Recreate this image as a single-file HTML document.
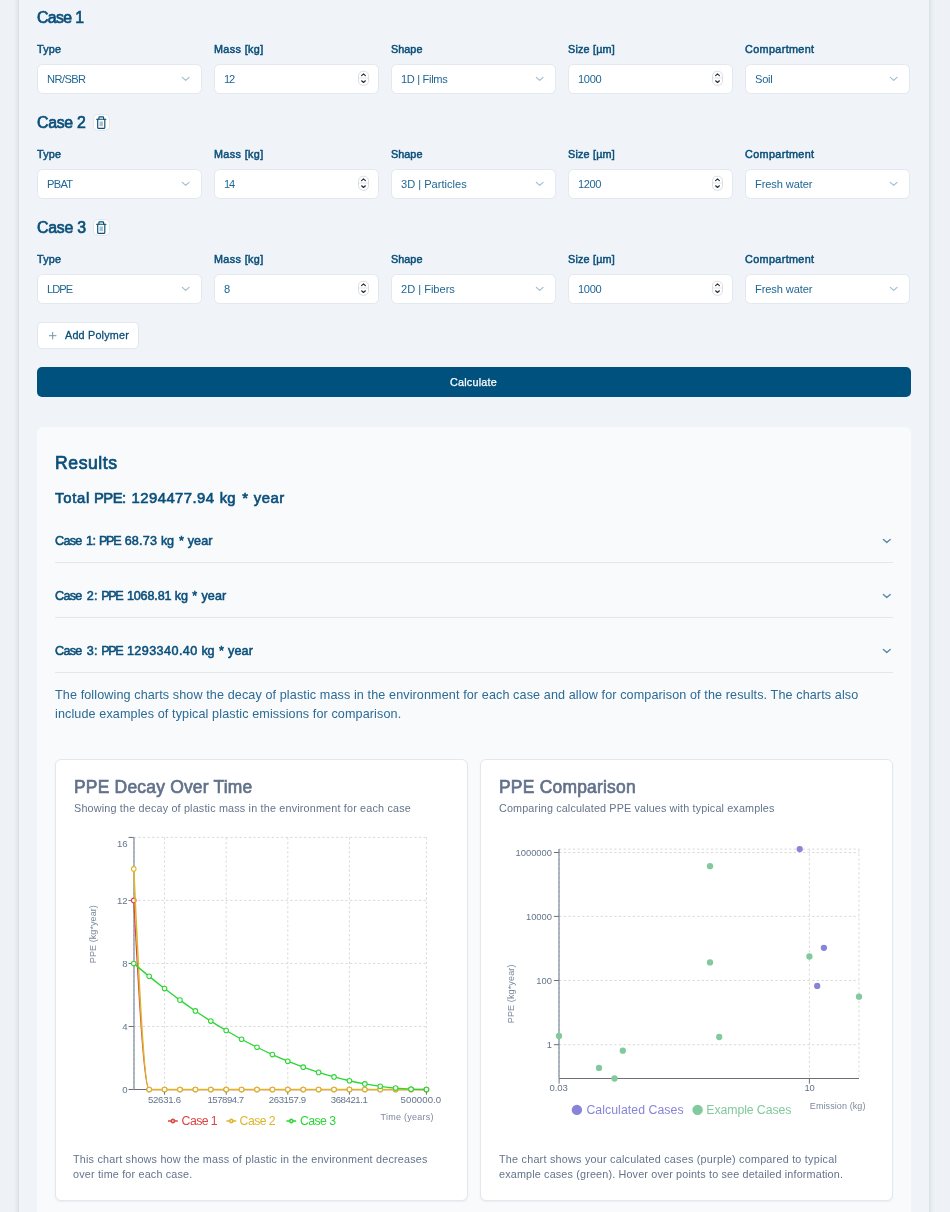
<!DOCTYPE html>
<html lang="en"><head><meta charset="utf-8"><meta name="viewport" content="width=device-width, initial-scale=1"><title>Plastic Persistence Calculator</title>
<style>
*{box-sizing:border-box}
html,body{margin:0;padding:0}
body{background:#eef2f6;font-family:"Liberation Sans",Arial,Helvetica,sans-serif;color:#0b4f7a;-webkit-font-smoothing:antialiased}
.page{position:relative;width:950px;height:1212px;overflow:hidden;background:#eef2f6}
.wrap{position:absolute;left:19px;top:-40px;width:910px;height:1320px;background:#f0f4f9;box-shadow:0 0 5px rgba(51,78,120,.22)}
.t{position:absolute;white-space:nowrap;margin:0;will-change:transform}
.box{position:absolute;background:#fff;border:1px solid #e2e8f0;border-radius:5.5px}
.abs{position:absolute}
svg{display:block;overflow:visible}
.w{position:absolute;top:0;white-space:pre}

</style></head>
<body>
<div class="page">
<div class="wrap"></div>
<!-- Case 1 -->
<div class="t " style="left:37.00px;top:6px;font-size:15.85px;line-height:23px;color:#0b4f7a;-webkit-text-stroke:0.68px #0b4f7a;letter-spacing:-0.603px;">Case 1</div>
<div class="t " style="left:37.30px;top:42px;font-size:10.80px;line-height:14px;color:#0b4f7a;-webkit-text-stroke:0.50px #0b4f7a;letter-spacing:0.172px;">Type</div>
<div class="box" style="left:37.00px;top:64.00px;width:165.00px;height:30px"></div>
<div class="t " style="left:46.90px;top:71px;font-size:11.10px;line-height:16px;color:#1f6694;letter-spacing:-0.556px;">NR/SBR</div>
<svg class="abs" style="left:179.25px;top:72.30px" width="13.4" height="13.4" viewBox="0 0 24 24" fill="none" stroke="#0b4f7a" stroke-width="2.1" stroke-linecap="round" stroke-linejoin="round" opacity="0.38"><path d="m6 9.7 6 5.3 6-5.3"/></svg>
<div class="t " style="left:214.30px;top:42px;font-size:10.80px;line-height:14px;color:#0b4f7a;-webkit-text-stroke:0.50px #0b4f7a;letter-spacing:0.366px;">Mass [kg]</div>
<div class="box" style="left:214.00px;top:64.00px;width:165.00px;height:30px"></div>
<div class="t " style="left:223.90px;top:71px;font-size:11.10px;line-height:16px;color:#1f6694;letter-spacing:-1.124px;">12</div>
<svg class="abs" style="left:357.80px;top:70.30px" width="11" height="16" viewBox="0 0 11 16" fill="none"><rect x="0.5" y="1.3" width="10" height="14" rx="4.4" fill="#fff" stroke="#dadada" stroke-width="0.9"/><path d="M0.8 8H10.2" stroke="#e2e2e2" stroke-width="0.9"/><path d="M3.6 5.6 5.5 3.9 7.4 5.6" stroke="#222c3a" stroke-width="1.15" stroke-linecap="round" stroke-linejoin="round"/><path d="M3.6 10.8 5.5 12.5 7.4 10.8" stroke="#222c3a" stroke-width="1.15" stroke-linecap="round" stroke-linejoin="round"/></svg>
<div class="t " style="left:391.30px;top:42px;font-size:10.80px;line-height:14px;color:#0b4f7a;-webkit-text-stroke:0.50px #0b4f7a;letter-spacing:0.054px;">Shape</div>
<div class="box" style="left:391.00px;top:64.00px;width:165.00px;height:30px"></div>
<div class="t " style="left:400.90px;top:71px;font-size:11.10px;line-height:16px;color:#1f6694;letter-spacing:-0.325px;">1D | Films</div>
<svg class="abs" style="left:533.25px;top:72.30px" width="13.4" height="13.4" viewBox="0 0 24 24" fill="none" stroke="#0b4f7a" stroke-width="2.1" stroke-linecap="round" stroke-linejoin="round" opacity="0.38"><path d="m6 9.7 6 5.3 6-5.3"/></svg>
<div class="t " style="left:568.30px;top:42px;font-size:10.80px;line-height:14px;color:#0b4f7a;-webkit-text-stroke:0.50px #0b4f7a;letter-spacing:0.197px;">Size [µm]</div>
<div class="box" style="left:568.00px;top:64.00px;width:165.00px;height:30px"></div>
<div class="t " style="left:577.90px;top:71px;font-size:11.10px;line-height:16px;color:#1f6694;letter-spacing:-0.299px;">1000</div>
<svg class="abs" style="left:711.80px;top:70.30px" width="11" height="16" viewBox="0 0 11 16" fill="none"><rect x="0.5" y="1.3" width="10" height="14" rx="4.4" fill="#fff" stroke="#dadada" stroke-width="0.9"/><path d="M0.8 8H10.2" stroke="#e2e2e2" stroke-width="0.9"/><path d="M3.6 5.6 5.5 3.9 7.4 5.6" stroke="#222c3a" stroke-width="1.15" stroke-linecap="round" stroke-linejoin="round"/><path d="M3.6 10.8 5.5 12.5 7.4 10.8" stroke="#222c3a" stroke-width="1.15" stroke-linecap="round" stroke-linejoin="round"/></svg>
<div class="t " style="left:745.30px;top:42px;font-size:10.80px;line-height:14px;color:#0b4f7a;-webkit-text-stroke:0.50px #0b4f7a;letter-spacing:0.371px;">Compartment</div>
<div class="box" style="left:745.00px;top:64.00px;width:165.00px;height:30px"></div>
<div class="t " style="left:754.90px;top:71px;font-size:11.10px;line-height:16px;color:#1f6694;letter-spacing:-0.252px;">Soil</div>
<svg class="abs" style="left:887.25px;top:72.30px" width="13.4" height="13.4" viewBox="0 0 24 24" fill="none" stroke="#0b4f7a" stroke-width="2.1" stroke-linecap="round" stroke-linejoin="round" opacity="0.38"><path d="m6 9.7 6 5.3 6-5.3"/></svg>
<!-- Case 2 -->
<div class="t " style="left:37.00px;top:111px;font-size:15.85px;line-height:23px;color:#0b4f7a;-webkit-text-stroke:0.68px #0b4f7a;letter-spacing:-0.270px;">Case 2</div>
<div class="box" style="left:93px;top:114.00px;width:17px;height:17px;border-radius:4.5px;border-color:#e0e7ef"></div><svg class="abs" style="left:95px;top:115.00px" width="13" height="15" viewBox="0 0 13 15" fill="none" stroke="#0b4f7a" stroke-width="1.15" stroke-linecap="round" stroke-linejoin="round"><path d="M3.9 4.2V2.5Q3.9 1.9 4.5 1.9H8Q8.6 1.9 8.6 2.5V4.2"/><path d="M1.6 4.2H10.9"/><path d="M2.7 4.2V12.4Q2.7 13.4 3.7 13.4H8.8Q9.8 13.4 9.8 12.4V4.2"/><rect x="4.55" y="6.5" width="3.4" height="4.7" fill="#0b4f7a" stroke="none" opacity="0.36"/></svg>
<div class="t " style="left:37.30px;top:147px;font-size:10.80px;line-height:14px;color:#0b4f7a;-webkit-text-stroke:0.50px #0b4f7a;letter-spacing:0.172px;">Type</div>
<div class="box" style="left:37.00px;top:169.00px;width:165.00px;height:30px"></div>
<div class="t " style="left:46.90px;top:176px;font-size:11.10px;line-height:16px;color:#1f6694;letter-spacing:-0.691px;">PBAT</div>
<svg class="abs" style="left:179.25px;top:177.30px" width="13.4" height="13.4" viewBox="0 0 24 24" fill="none" stroke="#0b4f7a" stroke-width="2.1" stroke-linecap="round" stroke-linejoin="round" opacity="0.38"><path d="m6 9.7 6 5.3 6-5.3"/></svg>
<div class="t " style="left:214.30px;top:147px;font-size:10.80px;line-height:14px;color:#0b4f7a;-webkit-text-stroke:0.50px #0b4f7a;letter-spacing:0.366px;">Mass [kg]</div>
<div class="box" style="left:214.00px;top:169.00px;width:165.00px;height:30px"></div>
<div class="t " style="left:223.90px;top:176px;font-size:11.10px;line-height:16px;color:#1f6694;letter-spacing:-1.124px;">14</div>
<svg class="abs" style="left:357.80px;top:175.30px" width="11" height="16" viewBox="0 0 11 16" fill="none"><rect x="0.5" y="1.3" width="10" height="14" rx="4.4" fill="#fff" stroke="#dadada" stroke-width="0.9"/><path d="M0.8 8H10.2" stroke="#e2e2e2" stroke-width="0.9"/><path d="M3.6 5.6 5.5 3.9 7.4 5.6" stroke="#222c3a" stroke-width="1.15" stroke-linecap="round" stroke-linejoin="round"/><path d="M3.6 10.8 5.5 12.5 7.4 10.8" stroke="#222c3a" stroke-width="1.15" stroke-linecap="round" stroke-linejoin="round"/></svg>
<div class="t " style="left:391.30px;top:147px;font-size:10.80px;line-height:14px;color:#0b4f7a;-webkit-text-stroke:0.50px #0b4f7a;letter-spacing:0.054px;">Shape</div>
<div class="box" style="left:391.00px;top:169.00px;width:165.00px;height:30px"></div>
<div class="t " style="left:400.90px;top:176px;font-size:11.10px;line-height:16px;color:#1f6694;letter-spacing:-0.007px;">3D | Particles</div>
<svg class="abs" style="left:533.25px;top:177.30px" width="13.4" height="13.4" viewBox="0 0 24 24" fill="none" stroke="#0b4f7a" stroke-width="2.1" stroke-linecap="round" stroke-linejoin="round" opacity="0.38"><path d="m6 9.7 6 5.3 6-5.3"/></svg>
<div class="t " style="left:568.30px;top:147px;font-size:10.80px;line-height:14px;color:#0b4f7a;-webkit-text-stroke:0.50px #0b4f7a;letter-spacing:0.197px;">Size [µm]</div>
<div class="box" style="left:568.00px;top:169.00px;width:165.00px;height:30px"></div>
<div class="t " style="left:577.90px;top:176px;font-size:11.10px;line-height:16px;color:#1f6694;letter-spacing:-0.424px;">1200</div>
<svg class="abs" style="left:711.80px;top:175.30px" width="11" height="16" viewBox="0 0 11 16" fill="none"><rect x="0.5" y="1.3" width="10" height="14" rx="4.4" fill="#fff" stroke="#dadada" stroke-width="0.9"/><path d="M0.8 8H10.2" stroke="#e2e2e2" stroke-width="0.9"/><path d="M3.6 5.6 5.5 3.9 7.4 5.6" stroke="#222c3a" stroke-width="1.15" stroke-linecap="round" stroke-linejoin="round"/><path d="M3.6 10.8 5.5 12.5 7.4 10.8" stroke="#222c3a" stroke-width="1.15" stroke-linecap="round" stroke-linejoin="round"/></svg>
<div class="t " style="left:745.30px;top:147px;font-size:10.80px;line-height:14px;color:#0b4f7a;-webkit-text-stroke:0.50px #0b4f7a;letter-spacing:0.371px;">Compartment</div>
<div class="box" style="left:745.00px;top:169.00px;width:165.00px;height:30px"></div>
<div class="t " style="left:754.90px;top:176px;font-size:11.10px;line-height:16px;color:#1f6694;letter-spacing:-0.100px;">Fresh water</div>
<svg class="abs" style="left:887.25px;top:177.30px" width="13.4" height="13.4" viewBox="0 0 24 24" fill="none" stroke="#0b4f7a" stroke-width="2.1" stroke-linecap="round" stroke-linejoin="round" opacity="0.38"><path d="m6 9.7 6 5.3 6-5.3"/></svg>
<!-- Case 3 -->
<div class="t " style="left:37.00px;top:216px;font-size:15.85px;line-height:23px;color:#0b4f7a;-webkit-text-stroke:0.68px #0b4f7a;letter-spacing:-0.220px;">Case 3</div>
<div class="box" style="left:93px;top:219.00px;width:17px;height:17px;border-radius:4.5px;border-color:#e0e7ef"></div><svg class="abs" style="left:95px;top:220.00px" width="13" height="15" viewBox="0 0 13 15" fill="none" stroke="#0b4f7a" stroke-width="1.15" stroke-linecap="round" stroke-linejoin="round"><path d="M3.9 4.2V2.5Q3.9 1.9 4.5 1.9H8Q8.6 1.9 8.6 2.5V4.2"/><path d="M1.6 4.2H10.9"/><path d="M2.7 4.2V12.4Q2.7 13.4 3.7 13.4H8.8Q9.8 13.4 9.8 12.4V4.2"/><rect x="4.55" y="6.5" width="3.4" height="4.7" fill="#0b4f7a" stroke="none" opacity="0.36"/></svg>
<div class="t " style="left:37.30px;top:252px;font-size:10.80px;line-height:14px;color:#0b4f7a;-webkit-text-stroke:0.50px #0b4f7a;letter-spacing:0.172px;">Type</div>
<div class="box" style="left:37.00px;top:274.00px;width:165.00px;height:30px"></div>
<div class="t " style="left:46.90px;top:281px;font-size:11.10px;line-height:16px;color:#1f6694;letter-spacing:-0.949px;">LDPE</div>
<svg class="abs" style="left:179.25px;top:282.30px" width="13.4" height="13.4" viewBox="0 0 24 24" fill="none" stroke="#0b4f7a" stroke-width="2.1" stroke-linecap="round" stroke-linejoin="round" opacity="0.38"><path d="m6 9.7 6 5.3 6-5.3"/></svg>
<div class="t " style="left:214.30px;top:252px;font-size:10.80px;line-height:14px;color:#0b4f7a;-webkit-text-stroke:0.50px #0b4f7a;letter-spacing:0.366px;">Mass [kg]</div>
<div class="box" style="left:214.00px;top:274.00px;width:165.00px;height:30px"></div>
<div class="t " style="left:223.90px;top:281px;font-size:11.10px;line-height:16px;color:#1f6694;letter-spacing:0.026px;">8</div>
<svg class="abs" style="left:357.80px;top:280.30px" width="11" height="16" viewBox="0 0 11 16" fill="none"><rect x="0.5" y="1.3" width="10" height="14" rx="4.4" fill="#fff" stroke="#dadada" stroke-width="0.9"/><path d="M0.8 8H10.2" stroke="#e2e2e2" stroke-width="0.9"/><path d="M3.6 5.6 5.5 3.9 7.4 5.6" stroke="#222c3a" stroke-width="1.15" stroke-linecap="round" stroke-linejoin="round"/><path d="M3.6 10.8 5.5 12.5 7.4 10.8" stroke="#222c3a" stroke-width="1.15" stroke-linecap="round" stroke-linejoin="round"/></svg>
<div class="t " style="left:391.30px;top:252px;font-size:10.80px;line-height:14px;color:#0b4f7a;-webkit-text-stroke:0.50px #0b4f7a;letter-spacing:0.054px;">Shape</div>
<div class="box" style="left:391.00px;top:274.00px;width:165.00px;height:30px"></div>
<div class="t " style="left:400.90px;top:281px;font-size:11.10px;line-height:16px;color:#1f6694;letter-spacing:-0.016px;">2D | Fibers</div>
<svg class="abs" style="left:533.25px;top:282.30px" width="13.4" height="13.4" viewBox="0 0 24 24" fill="none" stroke="#0b4f7a" stroke-width="2.1" stroke-linecap="round" stroke-linejoin="round" opacity="0.38"><path d="m6 9.7 6 5.3 6-5.3"/></svg>
<div class="t " style="left:568.30px;top:252px;font-size:10.80px;line-height:14px;color:#0b4f7a;-webkit-text-stroke:0.50px #0b4f7a;letter-spacing:0.197px;">Size [µm]</div>
<div class="box" style="left:568.00px;top:274.00px;width:165.00px;height:30px"></div>
<div class="t " style="left:577.90px;top:281px;font-size:11.10px;line-height:16px;color:#1f6694;letter-spacing:-0.299px;">1000</div>
<svg class="abs" style="left:711.80px;top:280.30px" width="11" height="16" viewBox="0 0 11 16" fill="none"><rect x="0.5" y="1.3" width="10" height="14" rx="4.4" fill="#fff" stroke="#dadada" stroke-width="0.9"/><path d="M0.8 8H10.2" stroke="#e2e2e2" stroke-width="0.9"/><path d="M3.6 5.6 5.5 3.9 7.4 5.6" stroke="#222c3a" stroke-width="1.15" stroke-linecap="round" stroke-linejoin="round"/><path d="M3.6 10.8 5.5 12.5 7.4 10.8" stroke="#222c3a" stroke-width="1.15" stroke-linecap="round" stroke-linejoin="round"/></svg>
<div class="t " style="left:745.30px;top:252px;font-size:10.80px;line-height:14px;color:#0b4f7a;-webkit-text-stroke:0.50px #0b4f7a;letter-spacing:0.371px;">Compartment</div>
<div class="box" style="left:745.00px;top:274.00px;width:165.00px;height:30px"></div>
<div class="t " style="left:754.90px;top:281px;font-size:11.10px;line-height:16px;color:#1f6694;letter-spacing:-0.100px;">Fresh water</div>
<svg class="abs" style="left:887.25px;top:282.30px" width="13.4" height="13.4" viewBox="0 0 24 24" fill="none" stroke="#0b4f7a" stroke-width="2.1" stroke-linecap="round" stroke-linejoin="round" opacity="0.38"><path d="m6 9.7 6 5.3 6-5.3"/></svg>
<!-- buttons -->
<div class="box" style="left:37px;top:322px;width:102px;height:27px;border-radius:5px"></div>
<svg class="abs" style="left:47.3px;top:330.1px" width="11.4" height="11.4" viewBox="0 0 24 24" fill="none" stroke="#0b4f7a" stroke-width="2" stroke-linecap="round" opacity="0.62"><path d="M5 12h14"/><path d="M12 5v14"/></svg>
<div class="t " style="left:64.60px;top:327px;font-size:10.80px;line-height:16px;color:#0b4f7a;letter-spacing:0.198px;-webkit-text-stroke:0.3px #0b4f7a;">Add Polymer</div>
<div class="abs" style="left:37px;top:367px;width:874px;height:30px;background:#01517e;border-radius:5px"></div>
<div class="t " style="left:450.00px;top:374px;font-size:10.80px;line-height:16px;color:#fff;letter-spacing:0.219px;-webkit-text-stroke:0.25px #fff;">Calculate</div>
<!-- results -->
<div class="abs" style="left:37px;top:427px;width:874px;height:830px;background:#f8fafc;border-radius:6px"></div>
<div class="t " style="left:55.30px;top:450px;font-size:17.60px;line-height:26px;color:#0b4f7a;-webkit-text-stroke:0.74px #0b4f7a;letter-spacing:0.573px;">Results</div>
<div class="t" style="left:55.40px;top:487px;height:22px;font-size:14.85px;line-height:22px;color:#0b4f7a;-webkit-text-stroke:0.64px #0b4f7a;"><span class="w" style="left:0.00px;letter-spacing:0.762px">Total </span><span class="w" style="left:38.90px;letter-spacing:-0.526px">PPE: </span><span class="w" style="left:76.60px;letter-spacing:0.446px">1294477.94 </span><span class="w" style="left:164.80px;letter-spacing:-0.056px">kg </span><span class="w" style="left:187.20px;letter-spacing:1.021px">* </span><span class="w" style="left:198.70px;letter-spacing:0.575px">year</span></div>
<div class="t" style="left:54.90px;top:532px;height:18px;font-size:12.60px;line-height:18px;color:#0b4f7a;-webkit-text-stroke:0.54px #0b4f7a;"><span class="w" style="left:0.00px;letter-spacing:-0.690px">Case </span><span class="w" style="left:31.10px;letter-spacing:-0.606px">1: </span><span class="w" style="left:44.00px;letter-spacing:-1.324px">PPE </span><span class="w" style="left:69.70px;letter-spacing:0.171px">68.73 </span><span class="w" style="left:106.10px;letter-spacing:-0.272px">kg </span><span class="w" style="left:123.90px;letter-spacing:-0.204px">* </span><span class="w" style="left:132.70px;letter-spacing:0.111px">year</span></div>
<svg class="abs" style="left:880.2px;top:534.20px" width="13.6" height="13.6" viewBox="0 0 24 24" fill="none" stroke="#0b4f7a" stroke-width="2.5" stroke-linecap="round" stroke-linejoin="round" opacity="0.66"><path d="m6 9.7 6 5.3 6-5.3"/></svg>
<div class="abs" style="left:55px;top:562px;width:838px;height:1px;background:#e2e8f0"></div>
<div class="t" style="left:54.90px;top:587px;height:18px;font-size:12.60px;line-height:18px;color:#0b4f7a;-webkit-text-stroke:0.54px #0b4f7a;"><span class="w" style="left:0.00px;letter-spacing:-0.690px">Case </span><span class="w" style="left:31.70px;letter-spacing:0.261px">2: </span><span class="w" style="left:46.20px;letter-spacing:-1.324px">PPE </span><span class="w" style="left:71.90px;letter-spacing:-0.146px">1068.81 </span><span class="w" style="left:119.80px;letter-spacing:-0.072px">kg </span><span class="w" style="left:137.30px;letter-spacing:-0.204px">* </span><span class="w" style="left:146.40px;letter-spacing:0.111px">year</span></div>
<svg class="abs" style="left:880.2px;top:589.20px" width="13.6" height="13.6" viewBox="0 0 24 24" fill="none" stroke="#0b4f7a" stroke-width="2.5" stroke-linecap="round" stroke-linejoin="round" opacity="0.66"><path d="m6 9.7 6 5.3 6-5.3"/></svg>
<div class="abs" style="left:55px;top:617px;width:838px;height:1px;background:#e2e8f0"></div>
<div class="t" style="left:54.90px;top:642px;height:18px;font-size:12.60px;line-height:18px;color:#0b4f7a;-webkit-text-stroke:0.54px #0b4f7a;"><span class="w" style="left:0.00px;letter-spacing:-0.690px">Case </span><span class="w" style="left:31.70px;letter-spacing:0.261px">3: </span><span class="w" style="left:46.20px;letter-spacing:-1.324px">PPE </span><span class="w" style="left:71.90px;letter-spacing:0.424px">1293340.40 </span><span class="w" style="left:146.60px;letter-spacing:-0.472px">kg </span><span class="w" style="left:164.10px;letter-spacing:-0.204px">* </span><span class="w" style="left:172.90px;letter-spacing:0.197px">year</span></div>
<svg class="abs" style="left:880.2px;top:644.20px" width="13.6" height="13.6" viewBox="0 0 24 24" fill="none" stroke="#0b4f7a" stroke-width="2.5" stroke-linecap="round" stroke-linejoin="round" opacity="0.66"><path d="m6 9.7 6 5.3 6-5.3"/></svg>
<div class="abs" style="left:55px;top:672px;width:838px;height:1px;background:#e2e8f0"></div>
<div class="t " style="left:55.20px;top:685px;font-size:12.60px;line-height:20px;color:#2c6b95;letter-spacing:0.109px;">The following charts show the decay of plastic mass in the environment for each case and allow for comparison of the results. The charts also</div>
<div class="t " style="left:55.20px;top:704px;font-size:12.60px;line-height:20px;color:#2c6b95;letter-spacing:0.111px;">include examples of typical plastic emissions for comparison.</div>
<!-- chart cards -->
<div class="abs" style="left:55px;top:759px;width:413px;height:442px;background:#fff;border:1px solid #e2e8f0;border-radius:6px;box-shadow:0 1px 2px rgba(15,23,42,.06)"></div>
<div class="abs" style="left:480px;top:759px;width:413px;height:442px;background:#fff;border:1px solid #e2e8f0;border-radius:6px;box-shadow:0 1px 2px rgba(15,23,42,.06)"></div>
<div class="t " style="left:74.00px;top:775px;font-size:17.45px;line-height:24px;color:#62718b;-webkit-text-stroke:0.66px #62718b;letter-spacing:0.213px;">PPE Decay Over Time</div>
<div class="t " style="left:74.00px;top:800px;font-size:10.80px;line-height:16px;color:#64748b;letter-spacing:0.176px;">Showing the decay of plastic mass in the environment for each case</div>
<div class="t " style="left:73.40px;top:1151px;font-size:10.80px;line-height:16px;color:#64748b;letter-spacing:0.199px;">This chart shows how the mass of plastic in the environment decreases</div>
<div class="t " style="left:73.40px;top:1166px;font-size:10.80px;line-height:16px;color:#64748b;letter-spacing:0.177px;">over time for each case.</div>
<div class="t " style="left:498.70px;top:775px;font-size:17.45px;line-height:24px;color:#62718b;-webkit-text-stroke:0.66px #62718b;letter-spacing:0.226px;">PPE Comparison</div>
<div class="t " style="left:498.70px;top:800px;font-size:10.80px;line-height:16px;color:#64748b;letter-spacing:0.137px;">Comparing calculated PPE values with typical examples</div>
<div class="t " style="left:498.70px;top:1151px;font-size:10.80px;line-height:16px;color:#64748b;letter-spacing:0.230px;">The chart shows your calculated cases (purple) compared to typical</div>
<div class="t " style="left:498.70px;top:1166px;font-size:10.80px;line-height:16px;color:#64748b;letter-spacing:0.160px;">example cases (green). Hover over points to see detailed information.</div>
<svg class="abs" style="left:0;top:0" width="950" height="1212" viewBox="0 0 950 1212">
<g fill="none" stroke="#d3d3d3" stroke-width="0.85" stroke-dasharray="2.3 2.3">
<path d="M133.75 1089.50H426.45"/>
<path d="M133.75 1026.47H426.45"/>
<path d="M133.75 963.45H426.45"/>
<path d="M133.75 900.42H426.45"/>
<path d="M133.75 837.40H426.45"/>
<path d="M133.75 837.40V1089.50"/>
<path d="M164.56 837.40V1089.50"/>
<path d="M226.18 837.40V1089.50"/>
<path d="M287.80 837.40V1089.50"/>
<path d="M349.42 837.40V1089.50"/>
<path d="M426.45 837.40V1089.50"/>
</g>
<g fill="none" stroke="#6b7078" stroke-width="1">
<path d="M133.75 1089.50H426.45"/>
<path d="M134 837.40V1089.50" stroke="#64748b" stroke-opacity="0.5" stroke-width="2"/>
<path d="M164.56 1089.50v5.2"/>
<path d="M226.18 1089.50v5.2"/>
<path d="M287.80 1089.50v5.2"/>
<path d="M349.42 1089.50v5.2"/>
<path d="M426.45 1089.50v5.2"/>
<path d="M133.75 1089.50h-5.2"/>
<path d="M133.75 1026.47h-5.2"/>
<path d="M133.75 963.45h-5.2"/>
<path d="M133.75 900.42h-5.2"/>
<path d="M133.75 837.40h-5.2"/>
</g>
<g font-family="Liberation Sans, Arial, Helvetica, sans-serif">
<text x="127.60" y="847.00" font-size="9.60" fill="#64748b" text-anchor="end" >16</text>
<text x="127.60" y="904.10" font-size="9.60" fill="#64748b" text-anchor="end" >12</text>
<text x="127.60" y="966.80" font-size="9.60" fill="#64748b" text-anchor="end" >8</text>
<text x="127.60" y="1029.80" font-size="9.60" fill="#64748b" text-anchor="end" >4</text>
<text x="127.60" y="1092.90" font-size="9.60" fill="#64748b" text-anchor="end" >0</text>
<text x="148.00" y="1102.80" font-size="9.60" fill="#64748b" text-anchor="start" textLength="33.0" lengthAdjust="spacing" >52631.6</text>
<text x="207.40" y="1102.80" font-size="9.60" fill="#64748b" text-anchor="start" textLength="36.8" lengthAdjust="spacing" >157894.7</text>
<text x="268.80" y="1102.80" font-size="9.60" fill="#64748b" text-anchor="start" textLength="37.2" lengthAdjust="spacing" >263157.9</text>
<text x="330.70" y="1102.80" font-size="9.60" fill="#64748b" text-anchor="start" textLength="37.2" lengthAdjust="spacing" >368421.1</text>
<text x="400.60" y="1102.80" font-size="9.60" fill="#64748b" text-anchor="start" textLength="40.6" lengthAdjust="spacing" >500000.0</text>
<text x="380.50" y="1119.80" font-size="9.00" fill="#64748b" text-anchor="start" textLength="53.0" lengthAdjust="spacing" opacity="0.85">Time (years)</text>
<text transform="translate(95.6 963.2) rotate(-90)" font-size="9" fill="#64748b" textLength="58.0" lengthAdjust="spacing" opacity="0.85">PPE (kg*year)</text>
</g>
<path d="M133.75,900.42C138.89,994.96,144.02,1089.50,149.16,1089.50C154.29,1089.50,159.43,1089.50,164.56,1089.50C169.70,1089.50,174.83,1089.50,179.97,1089.50C185.10,1089.50,190.24,1089.50,195.37,1089.50C200.51,1089.50,205.64,1089.50,210.78,1089.50C215.91,1089.50,221.05,1089.50,226.18,1089.50C231.32,1089.50,236.45,1089.50,241.59,1089.50C246.72,1089.50,251.86,1089.50,256.99,1089.50C262.13,1089.50,267.26,1089.50,272.40,1089.50C277.53,1089.50,282.67,1089.50,287.80,1089.50C292.94,1089.50,298.07,1089.50,303.21,1089.50C308.34,1089.50,313.48,1089.50,318.61,1089.50C323.75,1089.50,328.88,1089.50,334.02,1089.50C339.15,1089.50,344.29,1089.50,349.42,1089.50C354.56,1089.50,359.69,1089.50,364.83,1089.50C369.96,1089.50,375.10,1089.50,380.23,1089.50C385.37,1089.50,390.50,1089.50,395.64,1089.50C400.77,1089.50,405.91,1089.50,411.04,1089.50C416.18,1089.50,421.31,1089.50,426.45,1089.50" fill="none" stroke="#dd4343" stroke-width="1.25"/>
<g fill="#fff" stroke="#dd4343" stroke-width="1.05">
<circle cx="133.75" cy="900.42" r="2.3"/>
<circle cx="149.16" cy="1089.50" r="2.3"/>
<circle cx="164.56" cy="1089.50" r="2.3"/>
<circle cx="179.97" cy="1089.50" r="2.3"/>
<circle cx="195.37" cy="1089.50" r="2.3"/>
<circle cx="210.78" cy="1089.50" r="2.3"/>
<circle cx="226.18" cy="1089.50" r="2.3"/>
<circle cx="241.59" cy="1089.50" r="2.3"/>
<circle cx="256.99" cy="1089.50" r="2.3"/>
<circle cx="272.40" cy="1089.50" r="2.3"/>
<circle cx="287.80" cy="1089.50" r="2.3"/>
<circle cx="303.21" cy="1089.50" r="2.3"/>
<circle cx="318.61" cy="1089.50" r="2.3"/>
<circle cx="334.02" cy="1089.50" r="2.3"/>
<circle cx="349.42" cy="1089.50" r="2.3"/>
<circle cx="364.83" cy="1089.50" r="2.3"/>
<circle cx="380.23" cy="1089.50" r="2.3"/>
<circle cx="395.64" cy="1089.50" r="2.3"/>
<circle cx="411.04" cy="1089.50" r="2.3"/>
<circle cx="426.45" cy="1089.50" r="2.3"/>
</g>
<path d="M133.75,868.91C138.89,979.21,144.02,1089.50,149.16,1089.50C154.29,1089.50,159.43,1089.50,164.56,1089.50C169.70,1089.50,174.83,1089.50,179.97,1089.50C185.10,1089.50,190.24,1089.50,195.37,1089.50C200.51,1089.50,205.64,1089.50,210.78,1089.50C215.91,1089.50,221.05,1089.50,226.18,1089.50C231.32,1089.50,236.45,1089.50,241.59,1089.50C246.72,1089.50,251.86,1089.50,256.99,1089.50C262.13,1089.50,267.26,1089.50,272.40,1089.50C277.53,1089.50,282.67,1089.50,287.80,1089.50C292.94,1089.50,298.07,1089.50,303.21,1089.50C308.34,1089.50,313.48,1089.50,318.61,1089.50C323.75,1089.50,328.88,1089.50,334.02,1089.50C339.15,1089.50,344.29,1089.50,349.42,1089.50C354.56,1089.50,359.69,1089.50,364.83,1089.50C369.96,1089.50,375.10,1089.50,380.23,1089.50C385.37,1089.50,390.50,1089.50,395.64,1089.50C400.77,1089.50,405.91,1089.50,411.04,1089.50C416.18,1089.50,421.31,1089.50,426.45,1089.50" fill="none" stroke="#dcb62c" stroke-width="1.50"/>
<g fill="#fff" stroke="#dcb62c" stroke-width="1.05">
<circle cx="133.75" cy="868.91" r="2.3"/>
<circle cx="149.16" cy="1089.50" r="2.3"/>
<circle cx="164.56" cy="1089.50" r="2.3"/>
<circle cx="179.97" cy="1089.50" r="2.3"/>
<circle cx="195.37" cy="1089.50" r="2.3"/>
<circle cx="210.78" cy="1089.50" r="2.3"/>
<circle cx="226.18" cy="1089.50" r="2.3"/>
<circle cx="241.59" cy="1089.50" r="2.3"/>
<circle cx="256.99" cy="1089.50" r="2.3"/>
<circle cx="272.40" cy="1089.50" r="2.3"/>
<circle cx="287.80" cy="1089.50" r="2.3"/>
<circle cx="303.21" cy="1089.50" r="2.3"/>
<circle cx="318.61" cy="1089.50" r="2.3"/>
<circle cx="334.02" cy="1089.50" r="2.3"/>
<circle cx="349.42" cy="1089.50" r="2.3"/>
<circle cx="364.83" cy="1089.50" r="2.3"/>
<circle cx="380.23" cy="1089.50" r="2.3"/>
<circle cx="395.64" cy="1089.50" r="2.3"/>
<circle cx="411.04" cy="1089.50" r="2.3"/>
<circle cx="426.45" cy="1089.50" r="2.3"/>
</g>
<path d="M133.75,963.45C138.89,967.81,144.02,972.18,149.16,976.37C154.29,980.56,159.43,984.63,164.56,988.59C169.70,992.55,174.83,996.39,179.97,1000.11C185.10,1003.84,190.24,1007.45,195.37,1010.94C200.51,1014.43,205.64,1017.80,210.78,1021.06C215.91,1024.32,221.05,1027.46,226.18,1030.49C231.32,1033.52,236.45,1036.43,241.59,1039.22C246.72,1042.01,251.86,1044.69,256.99,1047.25C262.13,1049.81,267.26,1052.26,272.40,1054.58C277.53,1056.91,282.67,1059.12,287.80,1061.22C292.94,1063.31,298.07,1065.29,303.21,1067.15C308.34,1069.02,313.48,1070.76,318.61,1072.39C323.75,1074.02,328.88,1075.53,334.02,1076.93C339.15,1078.33,344.29,1079.61,349.42,1080.77C354.56,1081.93,359.69,1082.98,364.83,1083.91C369.96,1084.84,375.10,1085.66,380.23,1086.36C385.37,1087.06,390.50,1087.64,395.64,1088.10C400.77,1088.57,405.91,1088.92,411.04,1089.15C416.18,1089.38,421.31,1089.44,426.45,1089.50" fill="none" stroke="#2dd636" stroke-width="1.35"/>
<g fill="#fff" stroke="#2dd636" stroke-width="1.05">
<circle cx="133.75" cy="963.45" r="2.3"/>
<circle cx="149.16" cy="976.37" r="2.3"/>
<circle cx="164.56" cy="988.59" r="2.3"/>
<circle cx="179.97" cy="1000.11" r="2.3"/>
<circle cx="195.37" cy="1010.94" r="2.3"/>
<circle cx="210.78" cy="1021.06" r="2.3"/>
<circle cx="226.18" cy="1030.49" r="2.3"/>
<circle cx="241.59" cy="1039.22" r="2.3"/>
<circle cx="256.99" cy="1047.25" r="2.3"/>
<circle cx="272.40" cy="1054.58" r="2.3"/>
<circle cx="287.80" cy="1061.22" r="2.3"/>
<circle cx="303.21" cy="1067.15" r="2.3"/>
<circle cx="318.61" cy="1072.39" r="2.3"/>
<circle cx="334.02" cy="1076.93" r="2.3"/>
<circle cx="349.42" cy="1080.77" r="2.3"/>
<circle cx="364.83" cy="1083.91" r="2.3"/>
<circle cx="380.23" cy="1086.36" r="2.3"/>
<circle cx="395.64" cy="1088.10" r="2.3"/>
<circle cx="411.04" cy="1089.15" r="2.3"/>
<circle cx="426.45" cy="1089.50" r="2.3"/>
</g>
<g font-family="Liberation Sans, Arial, Helvetica, sans-serif">
<path transform="translate(168.00 1116.1) scale(0.3063)" fill="none" stroke="#dd4343" stroke-width="5" d="M0,16h10.67A5.33,5.33,0,1,1,21.33,16H32M21.33,16A5.33,5.33,0,1,1,10.67,16"/>
<text x="181.60" y="1124.90" font-size="12.30" fill="#dd4343" text-anchor="start" textLength="36.0" lengthAdjust="spacing" >Case 1</text>
<path transform="translate(226.40 1116.1) scale(0.3063)" fill="none" stroke="#dcb62c" stroke-width="5" d="M0,16h10.67A5.33,5.33,0,1,1,21.33,16H32M21.33,16A5.33,5.33,0,1,1,10.67,16"/>
<text x="239.60" y="1124.90" font-size="12.30" fill="#dcb62c" text-anchor="start" textLength="36.0" lengthAdjust="spacing" >Case 2</text>
<path transform="translate(286.40 1116.1) scale(0.3063)" fill="none" stroke="#2dd636" stroke-width="5" d="M0,16h10.67A5.33,5.33,0,1,1,21.33,16H32M21.33,16A5.33,5.33,0,1,1,10.67,16"/>
<text x="300.00" y="1124.90" font-size="12.30" fill="#2dd636" text-anchor="start" textLength="36.0" lengthAdjust="spacing" >Case 3</text>
</g>
<g fill="none" stroke="#d3d3d3" stroke-width="0.85" stroke-dasharray="2.3 2.3">
<path d="M559.10 849.10H859.00"/>
<path d="M559.10 852.50H859.00"/>
<path d="M559.10 916.40H859.00"/>
<path d="M559.10 980.50H859.00"/>
<path d="M559.10 1044.70H859.00"/>
<path d="M559.10 849.10V1078.50"/>
<path d="M809.40 849.10V1078.50"/>
<path d="M859.00 849.10V1078.50"/>
</g>
<g fill="none" stroke="#6b7078" stroke-width="1">
<path d="M559.10 1078.50H859.00"/>
<path d="M559 849.10V1078.50" stroke="#64748b" stroke-opacity="0.5" stroke-width="2"/>
<path d="M559.10 1078.50v5.2"/>
<path d="M809.40 1078.50v5.2"/>
<path d="M559.10 852.50h-5.2"/>
<path d="M559.10 916.40h-5.2"/>
<path d="M559.10 980.50h-5.2"/>
<path d="M559.10 1044.70h-5.2"/>
</g>
<g font-family="Liberation Sans, Arial, Helvetica, sans-serif">
<text x="552.00" y="856.00" font-size="9.40" fill="#64748b" text-anchor="end" >1000000</text>
<text x="552.00" y="919.80" font-size="9.40" fill="#64748b" text-anchor="end" >10000</text>
<text x="552.00" y="984.00" font-size="9.40" fill="#64748b" text-anchor="end" >100</text>
<text x="552.00" y="1048.00" font-size="9.40" fill="#64748b" text-anchor="end" >1</text>
<text x="549.40" y="1091.20" font-size="9.60" fill="#64748b" text-anchor="start" textLength="18.4" lengthAdjust="spacing" >0.03</text>
<text x="809.60" y="1091.20" font-size="9.40" fill="#64748b" text-anchor="middle" >10</text>
<text x="809.80" y="1108.80" font-size="9.00" fill="#64748b" text-anchor="start" textLength="55.6" lengthAdjust="spacing" opacity="0.85">Emission (kg)</text>
<text transform="translate(513.5 1023.2) rotate(-90)" font-size="9" fill="#64748b" textLength="58.6" lengthAdjust="spacing" opacity="0.85">PPE (kg*year)</text>
</g>
<g fill="#8884d8">
<circle cx="799.7" cy="849.1" r="3.15"/>
<circle cx="823.9" cy="947.8" r="3.15"/>
<circle cx="817.2" cy="985.9" r="3.15"/>
</g>
<g fill="#82ca9d">
<circle cx="559.0" cy="1035.9" r="3.15"/>
<circle cx="599.0" cy="1067.9" r="3.15"/>
<circle cx="614.5" cy="1078.5" r="3.15"/>
<circle cx="622.8" cy="1050.7" r="3.15"/>
<circle cx="710.0" cy="866.2" r="3.15"/>
<circle cx="710.0" cy="962.4" r="3.15"/>
<circle cx="719.2" cy="1037.0" r="3.15"/>
<circle cx="809.4" cy="956.5" r="3.15"/>
<circle cx="859.0" cy="996.7" r="3.15"/>
</g>
<g font-family="Liberation Sans, Arial, Helvetica, sans-serif">
<circle cx="576.9" cy="1109.9" r="5.2" fill="#8884d8"/>
<text x="586.40" y="1113.80" font-size="12.30" fill="#8884d8" text-anchor="start" textLength="97.2" lengthAdjust="spacing" >Calculated Cases</text>
<circle cx="697.6" cy="1109.9" r="5.2" fill="#82ca9d"/>
<text x="706.30" y="1113.80" font-size="12.30" fill="#82ca9d" text-anchor="start" textLength="85.1" lengthAdjust="spacing" >Example Cases</text>
</g>
</svg>
</div>
</body></html>
